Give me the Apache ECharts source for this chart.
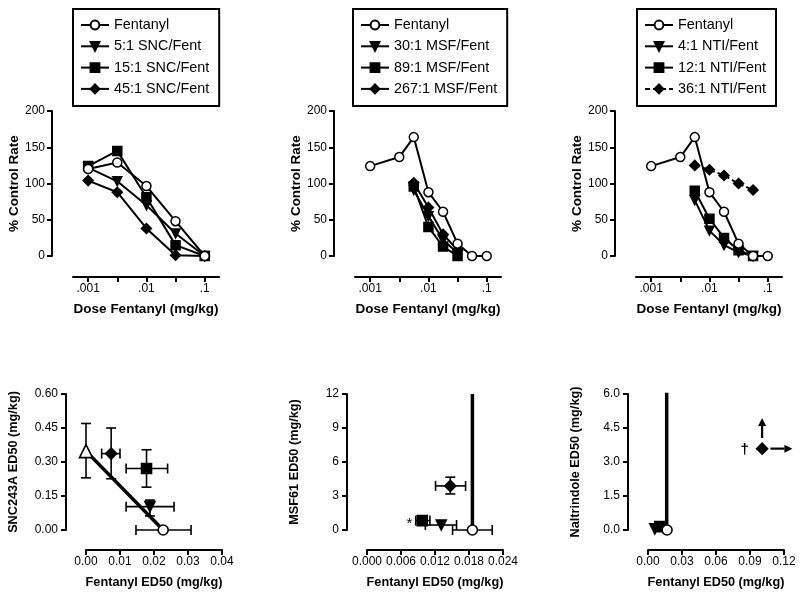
<!DOCTYPE html>
<html><head><meta charset="utf-8">
<script src="https://cdn.jsdelivr.net/npm/echarts@6/dist/echarts.min.js"></script>
<style>html,body{margin:0;padding:0;background:#fff}#c{width:800px;height:596px}</style>
</head><body><div id="c"></div>
<script>
// ---------------- data: dose-response (top row) ----------------
const fentDosesHalf = [0.001, 0.00316, 0.01, 0.0316, 0.1];
const fentDosesQuarter = [0.001, 0.00316, 0.0056, 0.01, 0.0178, 0.0316, 0.056, 0.1];
const msfComboDoses = [0.0056, 0.01, 0.0178, 0.0316];
const ntiComboDoses = [0.0056, 0.01, 0.0178, 0.0316, 0.056];

const sncFent = [120, 129, 96.5, 48, 0];
const snc5 = [122, 103, 70, 31, 0];
const snc15 = [124, 145, 81, 15, 0];
const snc45 = [104, 88, 38, 1, 0];

const msfFent = [124, 136.5, 164, 88, 61, 17, 0, 0];
const msf30 = [91, 55, 22, 4];
const msf89 = [96, 40, 13, 0];
const msf267 = [101, 67, 30, 8];

const ntiFent = [124, 136.5, 164, 88, 61, 17, 0, 0];
const nti4 = [77, 35, 15, 5, 0];
const nti12 = [90, 51.5, 25, 8, 0];
const nti36 = [125, 119, 111, 100, 91];

const doseTickValues = [0.001, 0.00316, 0.01, 0.0316, 0.1];
const doseLabelValues = [0.001, 0.01, 0.1];
const doseTickLabels = ['.001', '.01', '.1'];
const rateTickLabels = ['0', '50', '100', '150', '200'];

// ---------------- data: isobolograms (bottom row) ----------------
// rows: [fentanyl ED50, drug ED50, fentLo, fentHi, drugLo, drugHi]
const sncAloneEd = [0, 0.348, null, null, 0.23, 0.47];
const snc5Ed = [0.0188, 0.103, 0.0118, 0.0259, 0.062, 0.132];
const snc15Ed = [0.0178, 0.271, 0.0118, 0.024, 0.189, 0.354];
const snc45Ed = [0.0074, 0.337, 0.0046, 0.010, 0.226, 0.45];
const sncFentEd = [0.0227, 0, 0.0147, 0.0309, null, null];
const sncAdditive = [[0, 0.348], [0.0227, 0]];

const msfFentEd = [0.0186, 0, 0.0151, 0.0221, null, null];
const msf30Ed = [0.0131, 0.44, 0.0103, 0.0158, null, null];
const msf89Ed = [0.00975, 0.83, 0.0086, 0.0111, null, null];
const msf267Ed = [0.0147, 3.89, 0.0121, 0.0174, 3.18, 4.66];
const msfAdditive = [[0.0186, 0], [0.0186, 12]];

const ntiFentEd = [0.0168, 0, null, null, null, null];
const nti4Ed = [0.006, 0.05, null, null, null, null];
const nti12Ed = [0.0104, 0.15, null, null, null, null];
const nti36Ed = [0.1007, 3.59, null, null, null, null];
const ntiAdditive = [[0.0165, 0], [0.0165, 6.05]];
// arrows: [x1, y1, x2, y2]
const nti36Arrows = [[0.1007, 4.06, 0.1007, 4.94], [0.108, 3.59, 0.1274, 3.59]];

const sncXTicks = ['0.00', '0.01', '0.02', '0.03', '0.04'];
const sncYTicks = ['0.00', '0.15', '0.30', '0.45', '0.60'];
const msfXTicks = ['0.000', '0.006', '0.012', '0.018', '0.024'];
const msfYTicks = ['0', '3', '6', '9', '12'];
const ntiXTicks = ['0.00', '0.03', '0.06', '0.09', '0.12'];
const ntiYTicks = ['0.0', '1.5', '3.0', '4.5', '6.0'];

// ---------------- chart ----------------
const FONT = '"Liberation Sans", Arial, Helvetica, sans-serif';
const chart = echarts.init(document.getElementById('c'), null, {renderer: 'canvas', width: 800, height: 596});

const topLefts = [73, 355, 636];
const botLefts = [86, 367, 648];
const grids = [];
topLefts.forEach(l => grids.push({left: l, top: 111, width: 146, height: 145, outerBoundsMode: 'none', containLabel: false}));
botLefts.forEach(l => grids.push({left: l, top: 394, width: 136, height: 136, outerBoundsMode: 'none', containLabel: false}));

function axis(o) {
  const a = {
    gridIndex: o.grid, type: o.type || 'value', offset: o.offset,
    min: o.min, max: o.max,
    axisLine: {show: true, onZero: false, lineStyle: {color: '#000', width: 2}},
    axisTick: {show: true, inside: false, length: 5, lineStyle: {color: '#000', width: 2}},
    axisLabel: {show: true, color: '#000', fontSize: 12, fontFamily: FONT, margin: o.margin || 7, formatter: o.formatter},
    splitLine: {show: false},
    name: o.name, nameLocation: 'middle', nameGap: o.nameGap, nameRotate: o.rotate,
    nameTextStyle: {color: '#000', fontSize: o.nameSize || 13.5, fontWeight: 'bold', fontFamily: FONT}
  };
  if (o.interval != null) a.interval = o.interval;
  if (o.tickValues) a.axisTick.customValues = o.tickValues;
  if (o.labelValues) a.axisLabel.customValues = o.labelValues;
  return a;
}
function tickFmt(arr, min, step) { return v => arr[Math.round((v - min) / step)]; }

const xAxes = [], yAxes = [];
for (let i = 0; i < 3; i++) {
  xAxes.push(axis({grid: i, type: 'log', min: Math.pow(10, -3.26), max: Math.pow(10, -0.755), offset: 21,
    tickValues: doseTickValues, labelValues: doseLabelValues, margin: 6,
    formatter: v => doseTickLabels[Math.round(Math.log10(v)) + 3],
    name: 'Dose Fentanyl (mg/kg)', nameGap: 25}));
  yAxes.push(axis({grid: i, min: 0, max: 200, interval: 50, offset: 21,
    formatter: tickFmt(rateTickLabels, 0, 50), name: '% Control Rate', nameGap: 31, rotate: 90}));
}
const botX = [[0.04, 0.01, sncXTicks], [0.024, 0.006, msfXTicks], [0.12, 0.03, ntiXTicks]];
const botY = [[0.6, 0.15, sncYTicks, 'SNC243A ED50 (mg/kg)'], [12, 3, msfYTicks, 'MSF61 ED50 (mg/kg)'], [6, 1.5, ntiYTicks, 'Naltrindole ED50 (mg/kg)']];
for (let i = 0; i < 3; i++) {
  xAxes.push(axis({grid: 3 + i, min: 0, max: botX[i][0], interval: botX[i][1], offset: 20, margin: 6,
    formatter: tickFmt(botX[i][2], 0, botX[i][1]), name: 'Fentanyl ED50 (mg/kg)', nameGap: 26, nameSize: 12.7}));
  yAxes.push(axis({grid: 3 + i, min: 0, max: botY[i][0], interval: botY[i][1], offset: 20, margin: 8,
    formatter: tickFmt(botY[i][2], 0, botY[i][1]), name: botY[i][3], nameGap: 46, rotate: 90, nameSize: 12.7}));
}

const SYM = {
  fent: {symbol: 'circle', size: 9, fill: '#fff'},
  low: {symbol: 'triangle', size: 9, rotate: 180, fill: '#000'},
  mid: {symbol: 'rect', size: 9, fill: '#000'},
  high: {symbol: 'diamond', size: 10, fill: '#000'},
  alone: {symbol: 'triangle', size: 12, fill: '#fff'}
};

const series = [];
function lineSeries(gi, name, xs, ys, sym, dashed, z) {
  series.push({
    type: 'line', name, xAxisIndex: gi, yAxisIndex: gi,
    data: xs.map((x, i) => [x, ys[i]]),
    symbol: sym.symbol, symbolSize: sym.size, symbolRotate: sym.rotate || 0, showAllSymbol: true,
    itemStyle: {color: sym.fill, borderColor: '#000', borderWidth: 1.5},
    lineStyle: {color: '#000', width: 2, type: dashed ? [5, 3] : 'solid'},
    emphasis: {disabled: true}, silent: true, animation: false, z: z || 2
  });
}
lineSeries(0, '5:1 SNC/Fent', fentDosesHalf, snc5, SYM.low);
lineSeries(0, '15:1 SNC/Fent', fentDosesHalf, snc15, SYM.mid);
lineSeries(0, '45:1 SNC/Fent', fentDosesHalf, snc45, SYM.high);
lineSeries(0, 'Fentanyl', fentDosesHalf, sncFent, SYM.fent, false, 3);

lineSeries(1, '30:1 MSF/Fent', msfComboDoses, msf30, SYM.low);
lineSeries(1, '89:1 MSF/Fent', msfComboDoses, msf89, SYM.mid);
lineSeries(1, '267:1 MSF/Fent', msfComboDoses, msf267, SYM.high);
lineSeries(1, 'Fentanyl', fentDosesQuarter, msfFent, SYM.fent, false, 3);

lineSeries(2, '4:1 NTI/Fent', ntiComboDoses, nti4, SYM.low);
lineSeries(2, '12:1 NTI/Fent', ntiComboDoses, nti12, SYM.mid);
lineSeries(2, '36:1 NTI/Fent', ntiComboDoses, nti36, SYM.high, true);
lineSeries(2, 'Fentanyl', fentDosesQuarter, ntiFent, SYM.fent, false, 3);

// bottom row
function norm(r) {
  return [r[0], r[1], r[2] == null ? r[0] : r[2], r[3] == null ? r[0] : r[3], r[4] == null ? r[1] : r[4], r[5] == null ? r[1] : r[5]];
}
function errSeries(gi, rows) {
  series.push({
    type: 'custom', xAxisIndex: gi, yAxisIndex: gi, clip: false, silent: true, animation: false, z: 3,
    data: rows.map(norm), encode: {x: 0, y: 1},
    renderItem: (params, api) => {
      const x = api.value(0), y = api.value(1), xl = api.value(2), xh = api.value(3), yl = api.value(4), yh = api.value(5);
      const st = {stroke: '#000', lineWidth: 1.6, fill: null};
      const cap = 5, ch = [];
      const L = (x1, y1, x2, y2) => ch.push({type: 'line', shape: {x1, y1, x2, y2}, style: st});
      if (xh > xl) {
        const a = api.coord([xl, y]), b = api.coord([xh, y]);
        L(a[0], a[1], b[0], b[1]); L(a[0], a[1] - cap, a[0], a[1] + cap); L(b[0], b[1] - cap, b[0], b[1] + cap);
      }
      if (yh > yl) {
        const a = api.coord([x, yl]), b = api.coord([x, yh]);
        L(a[0], a[1], b[0], b[1]); L(a[0] - cap, a[1], a[0] + cap, a[1]); L(b[0] - cap, b[1], b[0] + cap, b[1]);
      }
      return {type: 'group', children: ch};
    }
  });
}
function pointSeries(gi, name, row, sym, label) {
  const s = {
    type: 'scatter', name, xAxisIndex: gi, yAxisIndex: gi, data: [[row[0], row[1]]],
    symbol: sym.symbol, symbolSize: sym.size + 1, symbolRotate: sym.rotate || 0,
    itemStyle: {color: sym.fill, borderColor: '#000', borderWidth: 1.6, opacity: 1},
    clip: false, silent: true, animation: false, z: 5, emphasis: {disabled: true}
  };
  if (label) s.label = Object.assign({show: true, position: 'left', color: '#000', fontFamily: FONT, fontSize: 14}, label);
  series.push(s);
}
function additiveSeries(gi, pts) {
  series.push({
    type: 'line', xAxisIndex: gi, yAxisIndex: gi, data: pts, symbol: 'none',
    lineStyle: {color: '#000', width: 3.5}, silent: true, animation: false, z: 4, clip: false
  });
}

additiveSeries(3, sncAdditive);
errSeries(3, [sncAloneEd, snc5Ed, snc15Ed, snc45Ed, sncFentEd]);
pointSeries(3, 'SNC243A ED50', sncAloneEd, SYM.alone);
pointSeries(3, 'snc5 ED50', snc5Ed, SYM.low);
pointSeries(3, 'snc15 ED50', snc15Ed, SYM.mid);
pointSeries(3, 'snc45 ED50', snc45Ed, SYM.high);
pointSeries(3, 'snc fent ED50', sncFentEd, SYM.fent);

additiveSeries(4, msfAdditive);
errSeries(4, [msfFentEd, msf30Ed, msf89Ed, msf267Ed]);
pointSeries(4, 'msf30 ED50', msf30Ed, SYM.low);
pointSeries(4, 'msf89 ED50', msf89Ed, SYM.mid, {formatter: '*', distance: 4, offset: [0, 3], fontSize: 15});
pointSeries(4, 'msf267 ED50', msf267Ed, SYM.high);
pointSeries(4, 'msf fent ED50', msfFentEd, SYM.fent);

additiveSeries(5, ntiAdditive);
pointSeries(5, 'nti4 ED50', nti4Ed, SYM.low);
pointSeries(5, 'nti12 ED50', nti12Ed, SYM.mid);
pointSeries(5, 'nti36 ED50', nti36Ed, SYM.high, {formatter: '\u2020', distance: 7, fontSize: 15, fontWeight: 'bold', offset: [0, 1]});
pointSeries(5, 'nti fent ED50', ntiFentEd, SYM.fent);
series.push({
  type: 'custom', xAxisIndex: 5, yAxisIndex: 5, clip: false, silent: true, animation: false, z: 5,
  data: nti36Arrows, encode: {x: [0, 2], y: [1, 3]},
  renderItem: (params, api) => {
    const a = api.coord([api.value(0), api.value(1)]), b = api.coord([api.value(2), api.value(3)]);
    const dx = b[0] - a[0], dy = b[1] - a[1], len = Math.hypot(dx, dy);
    const ux = dx / len, uy = dy / len, h = 8, w = 4;
    const base = [b[0] - ux * h, b[1] - uy * h];
    return {type: 'group', children: [
      {type: 'line', shape: {x1: a[0], y1: a[1], x2: base[0], y2: base[1]}, style: {stroke: '#000', lineWidth: 2.2}},
      {type: 'polygon', shape: {points: [b, [base[0] - uy * w, base[1] + ux * w], [base[0] + uy * w, base[1] - ux * w]]}, style: {fill: '#000'}}
    ]};
  }
});

function legendCfg(left, names) {
  return {
    left, top: 9, orient: 'vertical', data: names,
    itemWidth: 28, itemHeight: 11, itemGap: 7.3,
    padding: [9, 10, 10, 7],
    borderColor: '#000', borderWidth: 2, backgroundColor: '#fff',
    textStyle: {color: '#000', fontSize: 14.4, fontFamily: FONT},
    selectedMode: false
  };
}

chart.setOption({
  animation: false,
  backgroundColor: '#fff',
  textStyle: {fontFamily: FONT, color: '#000'},
  grid: grids,
  xAxis: xAxes,
  yAxis: yAxes,
  legend: [
    legendCfg(73, ['Fentanyl', '5:1 SNC/Fent', '15:1 SNC/Fent', '45:1 SNC/Fent']),
    legendCfg(353, ['Fentanyl', '30:1 MSF/Fent', '89:1 MSF/Fent', '267:1 MSF/Fent']),
    legendCfg(637, ['Fentanyl', '4:1 NTI/Fent', '12:1 NTI/Fent', '36:1 NTI/Fent'])
  ],
  series
});
</script></body></html>
